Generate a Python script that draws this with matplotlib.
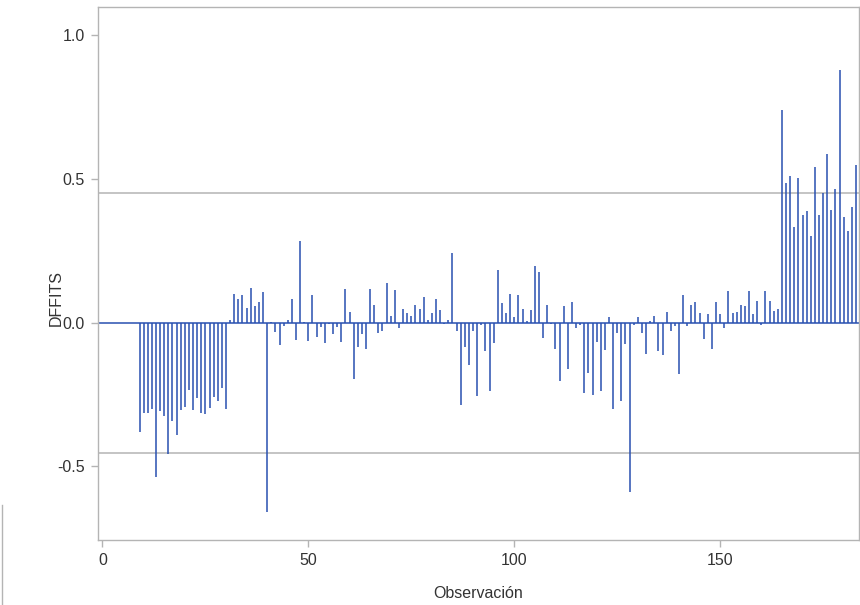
import numpy as np
import matplotlib
matplotlib.use("Agg")
import matplotlib.pyplot as plt
from matplotlib.lines import Line2D

first_obs = 9
dffits = [
    -0.38, -0.314, -0.314, -0.30, -0.536, -0.308, -0.324, -0.457, -0.341, -0.391,
    -0.304, -0.295, -0.233, -0.304, -0.262, -0.314, -0.319, -0.296, -0.258, -0.272,
    -0.227, -0.301,
    0.01, 0.10, 0.083, 0.096, 0.052, 0.12, 0.058, 0.072, 0.105, -0.659,
    0.003, -0.031, -0.078, -0.01, 0.009, 0.081, -0.06, 0.285, 0.003, -0.0625,
    0.096, -0.049, -0.014, -0.069, -0.003, -0.039, -0.016, -0.068, 0.118, 0.038,
    -0.197, -0.083, -0.039, -0.093, 0.118, 0.0625, -0.035, -0.03, 0.138, 0.023,
    0.115, -0.02,
    0.047, 0.034, 0.024, 0.0625, 0.047, 0.091, 0.01, 0.034, 0.082, 0.043,
    -0.005, 0.009, 0.244, -0.028, -0.288, -0.086, -0.148, -0.028, -0.255, -0.009,
    -0.1, -0.237, -0.071, 0.182, 0.067, 0.034, 0.1, 0.02, 0.096, 0.047,
    0.005, 0.043, 0.197, 0.176, -0.052, 0.0625, -0.005, -0.09, -0.204, 0.058,
    -0.162, 0.072, -0.019, -0.009, -0.243, -0.176, -0.251, -0.066, -0.237, -0.095,
    0.02, -0.299, -0.037, -0.271, -0.075, -0.59, -0.009, 0.02, -0.037, -0.109,
    0.005, 0.023, -0.1, -0.111, 0.038, -0.03, -0.012, -0.177, 0.096, -0.012,
    0.0625, 0.071, 0.034, -0.058, 0.029, -0.091, 0.071, 0.029, -0.02, 0.11,
    0.034, 0.038, 0.0625, 0.058, 0.11, 0.029, 0.076, -0.009, 0.11, 0.076,
    0.041, 0.049, 0.74, 0.486, 0.51, 0.334, 0.502, 0.374, 0.387, 0.301,
    0.54, 0.374, 0.451, 0.587, 0.391, 0.465, 0.878, 0.369, 0.32, 0.402, 0.55,
]
obs = np.arange(first_obs, first_obs + len(dffits))
cutoff = 0.452
xticks = [0, 50, 100, 150]
yticks = [-0.5, 0.0, 0.5, 1.0]

plt.rcParams['font.family'] = ['Liberation Sans', 'DejaVu Sans']

blue = '#2850b0'
gray = '#b4b4b4'
txt = '#333333'

fig = plt.figure(figsize=(8.6, 6.05), dpi=100)
ax = fig.add_axes([0.1134, 0.1074, 0.8849, 0.881])

ax.axhline(cutoff, color=gray, lw=1.1, zorder=1)
ax.axhline(-cutoff, color=gray, lw=1.1, zorder=1)
ax.axhline(0, color=blue, lw=1.1, zorder=2)
ax.vlines(obs, 0, dffits, color=blue, lw=1.1, zorder=3)

ax.set_xlim(-1.2, 183.6)
ax.set_ylim(-0.756, 1.098)
ax.set_xticks(xticks)
ax.set_yticks(yticks)
ax.set_yticklabels([f"{v:.1f}" for v in yticks])

for s in ax.spines.values():
    s.set_color(gray)
    s.set_linewidth(1.0)
ax.tick_params(direction='out', length=5, width=1, color=gray,
               labelcolor=txt, labelsize=11.5, pad=4)

ax.set_xlabel("Observación", fontsize=11.5, color=txt, labelpad=13)
ax.set_ylabel("DFFITS", fontsize=11.5, color=txt)
ax.yaxis.set_label_coords(-0.044, 0.454)

# stray gray line at bottom-left of the original image
fig.add_artist(Line2D([2 / 860, 2 / 860], [0, 100 / 605], color=gray, lw=1.0,
                      transform=fig.transFigure))

fig.savefig("out.png", dpi=100)
